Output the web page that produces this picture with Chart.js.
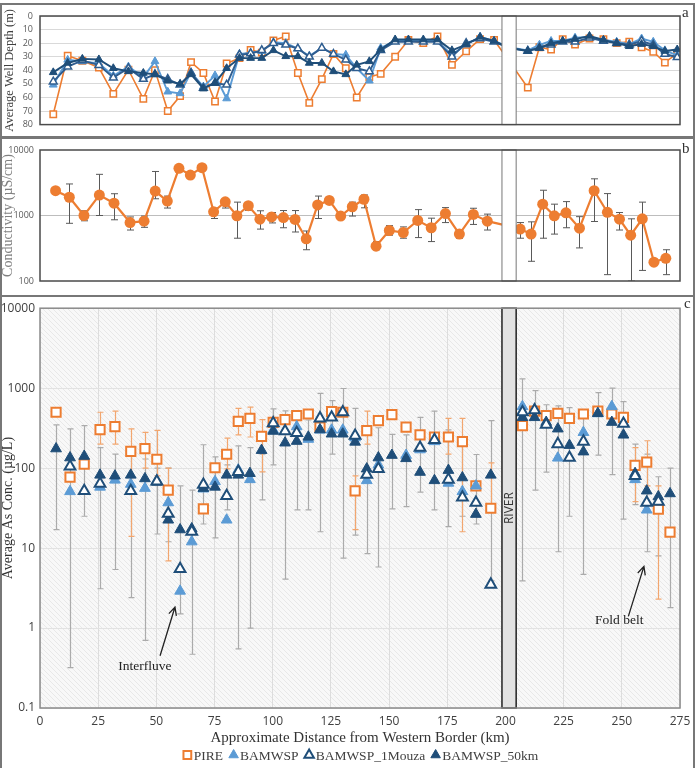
<!DOCTYPE html>
<html>
<head>
<meta charset="utf-8">
<script src="https://cdn.jsdelivr.net/npm/chart.js@4.4.1/dist/chart.umd.min.js"></script>
<style>
  body { margin: 0; background: #fff; width: 697px; height: 768px; position: relative; overflow: hidden; }
  .frame { position: absolute; left: 0; width: 695px; border: 2px solid #777; box-sizing: border-box; }
  canvas { position: absolute; left: 0; z-index: 2; }
  .lab { position: absolute; z-index: 3; font: 15px 'Liberation Serif', serif; color: #333; }
</style>
</head>
<body>
<div class="frame" style="top:3px;height:135px"></div>
<div class="frame" style="top:137px;height:160px"></div>
<div class="frame" style="top:295px;height:480px"></div>
<canvas id="ca" width="697" height="137" style="top:0"></canvas>
<canvas id="cb" width="697" height="159" style="top:137px"></canvas>
<canvas id="cc" width="697" height="472" style="top:296px"></canvas>
<div class="lab" style="left:682px;top:4px">a</div>
<div class="lab" style="left:682px;top:140px">b</div>
<div class="lab" style="left:684px;top:295px">c</div>
<script>
// ---- data ----
const riverKm = [198.5, 204.6];

// (a) average well depth, m
const depthKm = [5.7, 11.9, 18.2, 25.3, 31.5, 38, 44.4, 49.4, 54.9, 60.2,
  64.9, 70.2, 75.2, 80.2, 85.7, 90.5, 95.3, 100.3, 105.6, 110.8,
  115.7, 121.1, 126.1, 131.4, 136.1, 141.5, 146.4, 152.6, 158.3, 164.7,
  170.8, 177, 183.1, 189.1, 195.1, 201.5, 209.6, 214.6, 219.6, 224.6,
  229.9, 236.1, 242.1, 247.8, 253.2, 258.5, 263.5, 268.5, 273.8];
const depthPIRE = [72.4, 29.3, 33, 38, 57.4, 39.6, 61, 40, 70, 59,
  34, 42, 63, 35, 31, 25, 27, 18, 15, 42,
  64, 46.5, 28, 38.5, 60, 45, 42.6, 30, 17.7, 20,
  15, 36, 26, 17, 17.7, 33, 52.8, 23, 24.7, 17,
  21, 16.6, 17, 20, 19, 23, 26.3, 34.3, 27.6];
const depthBAMWSP = [50.7, 32.3, 33.5, 35, 44, 37.3, 45, 33.4, 55.8, 57,
  41.5, 52, 43.8, 60.8, 28, 27, 26, 19.4, 20, 24,
  29.5, 23.5, 28, 28.6, 38.5, 47.7, 23.5, 18.4, 18.4, 18.4,
  18.4, 28.6, 21, 15.4, 18.4, 23, 25.3, 21.2, 18.4, 18.4,
  16, 15.4, 17.7, 19, 20.7, 16.6, 19, 25.3, 29];
const depth1Mouza = [48.4, 37.3, 32.7, 36.2, 45.4, 38.5, 46.5, 43, 46.5, 50.7,
  42, 53, 49.3, 50.7, 28.6, 27.6, 25.3, 20, 21.2, 24,
  30, 23.5, 28, 32.3, 38.5, 40.8, 25.3, 19, 19, 19,
  19, 30, 20, 16.6, 19, 23.5, 25.8, 23.5, 21.2, 19,
  19, 16, 18.4, 20, 21.2, 18.4, 21.2, 28, 30.4];
const depth50km = [41.5, 34.6, 31.6, 32, 38.5, 40.8, 42, 43, 47.7, 50,
  43, 53.5, 49.3, 38.5, 31, 31, 31, 25.3, 29.7, 29.7,
  34.6, 34.6, 40.8, 43, 36, 33.4, 24.7, 17.3, 17.3, 17.3,
  17.3, 25.3, 21, 15.4, 18.4, 23.5, 25.8, 23.5, 20, 18.4,
  17, 14.7, 17.7, 20, 22.3, 20.7, 22.3, 25.8, 24.7];
const depthTicks = [0, 10, 20, 30, 40, 50, 60, 70, 80];

// (b) conductivity, uS/cm
const condKm = [6.7, 12.6, 18.9, 25.5, 31.8, 38.7, 44.7, 49.5, 54.7, 59.7,
  64.6, 69.6, 74.6, 79.6, 84.6, 89.5, 94.5, 99.5, 104.6, 109.6,
  114.4, 119.3, 124.3, 129.2, 134.2, 139.2, 144.4, 150.1, 156.1, 162.3,
  168.1, 174.2, 180.2, 186.2, 192.2, 201.5, 206.3, 211, 216, 221,
  226, 231.8, 238.1, 243.8, 249, 253.8, 258.8, 263.8, 268.9];
const condMean = [2390, 1900, 1000, 2050, 1540, 780, 820, 2360, 1660, 5250,
  4150, 5370, 1140, 1620, 990, 1410, 880, 950, 930, 870,
  440, 1450, 1700, 980, 1360, 1770, 340, 590, 550, 840,
  650, 1070, 520, 1040, 820, 690, 620, 520, 1490, 990,
  1100, 640, 2390, 1120, 880, 500, 890, 194, 222];
const condLo = [null, 760, 830, 1000, 860, 600, 660, 1800, 1300, null,
  null, null, 900, 1300, 450, 1200, 620, 770, 650, 560,
  300, 900, null, null, 980, 1310, 300, 500, 450, 460,
  400, 780, 450, 730, 600, null, 450, 200, 450, 520,
  650, 320, 810, 125, 600, 100, 145, null, 125];
const condHi = [null, 3030, 1180, 4250, 2150, 950, 980, 4700, 1980, null,
  null, null, 1300, 1800, 1600, 1550, 1180, 1110, 1190, 1190,
  580, 1980, null, null, 1600, 2060, 400, 700, 670, 1230,
  910, 1320, 600, 1290, 1050, null, 780, 800, 2430, 1490,
  1630, 960, 3630, 2160, 1110, 890, 1600, null, 300];
const condTicks = [100, 1000, 10000];

// (c) average As concentration, ug/L
const asKm = [6.9, 12.9, 19, 25.8, 32.2, 39, 45.1, 50.2, 55.1, 60.2,
  65.2, 70.2, 75.2, 80.2, 85.2, 90.2, 95.2, 100.2, 105.3, 110.3,
  115.3, 120.3, 125.3, 130.1, 135.4, 140.4, 145.4, 151.2, 157.3, 163.3,
  169.5, 175.5, 181.5, 187.3, 193.7, 207.3, 212.5, 217.5, 222.5, 227.5,
  233.5, 239.7, 245.7, 250.7, 255.7, 260.7, 265.7, 270.7];
const asPIRE = [500, 77, 112, 303, 331, 162, 175, 129, 53, null,
  null, 31, 101, 149, 385, 420, 250, 374, 405, 453,
  475, 325, 508, 500, 52, 295, 393, 466, 325, 260,
  245, 245, 215, 60, 31.5, 340, 515, 453, 484, 420,
  475, 515, 475, 430, 108, 119, 30.6, 15.8];
const asBAMWSP = [null, 51, null, 58, 71, 63, 56, 70, 37, 2.9,
  12, 55, 68, 22.5, 95, 72, null, 300, 290, 330,
  230, 300, 300, 300, 240, 70, 110, null, 145, 170,
  215, 65, 51, 60, null, 590, null, null, 134, null,
  280, 480, 590, null, 72, 30, null, null];
const as1Mouza = [null, 105, 52, 64, null, 52, null, 68, 27, 5.5,
  16, 62, null, 45, 90, null, null, 365, 290, 275,
  null, 420, 430, 500, 255, 83, 98, null, null, 180,
  225, 72, 43, 37, 3.5, 500, 530, 350, 200, 135,
  215, null, null, 360, 80, 37, 38, null];
const as50km = [175, 135, 141, 82, 80, 82, 74, 67, 22.5, 17,
  17.5, 56, 58, 82, 82, 86, 167, 290, 207, 217,
  245, 303, 268, 268, 212, 98, 135, 145, 132, 89,
  70, 94, 76, 26.5, 82, 430, 430, 375, 310, 193,
  160, 484, 375, 260, 86, 52, 44, 48];
// error ranges (grey: BAMWSP groups, orange: PIRE)
const asLo = [17, 0.32, 25, 3.1, 5.4, 2.4, 0.7, 15, 12, 1.5,
  0.47, 20, 13.4, 30, 0.55, 1.0, 40, 110, 4.1, 30,
  30, 16, 150, 7.5, 14.5, 8.5, 5.8, 31, 33, 50,
  30, 18.6, 25, 20, 3.9, 3.9, 53, 89, 9, 25,
  4.7, 145, 83, 23, 35, 9, 8, 1.8];
const asHi = [347, 309, 340, 180, 150, 150, 130, 100, 100, 60,
  53, 196, 138, 110, 190, 180, 150, 550, 520, 480,
  400, 860, 700, 990, 560, 300, 320, 265, 260, 430,
  515, 300, 200, 148, 393, 1310, 930, 620, 600, 570,
  500, 880, 1000, 680, 200, 150, 78, 100];
const asPIRELo = [null, null, null, 200, 200, 14, 100, 80, 6.9, null,
  null, null, null, 98, 260, 245, 90, null, null, null,
  null, null, null, null, 17, 200, null, null, null, null,
  null, 150, 16, null, 29, null, null, null, null, null,
  null, null, null, null, 38, 60, 2.3, null];
const asPIREHi = [null, null, null, 500, 515, 309, 280, 296, 100, null,
  null, null, null, 237, 560, 580, 405, null, null, null,
  null, null, null, null, 80, 515, null, null, null, null,
  null, 420, 420, null, 116, null, null, null, null, null,
  null, null, null, null, 180, 220, 60, null];
const asTicks = [0.1, 1, 10, 100, 1000, 10000];

// annotations in panel c (km, ug/L)
const noteText = ['Interfluve', 'Fold belt'];
const noteKm = [45.1, 248.9];
const noteVal = [0.335, 1.24];
const arrowFromKm = [51.6, 252.8];
const arrowFromVal = [0.45, 1.4];
const arrowToKm = [58, 259.5];
const arrowToVal = [1.83, 5.9];

// ---- styles ----
const ORANGE = '#ED7D31', LIGHT = '#5B9BD5', NAVY = '#1F4E79', MID = '#2F5D8F';
const serif = "'Liberation Serif', 'Times New Roman', serif";
const sans = "'Open Sans', 'Liberation Sans', sans-serif";

function pts(xs, ys) {
  return xs.map((x, i) => ({ x: x, y: ys[i] }));
}

function hatchPattern(ctx) {
  const c = document.createElement('canvas');
  c.width = c.height = 5;
  const g = c.getContext('2d');
  g.fillStyle = '#f8f8f8';
  g.fillRect(0, 0, 5, 5);
  g.strokeStyle = '#e8e8e8';
  g.lineWidth = 1;
  g.beginPath();
  g.moveTo(-1, -1); g.lineTo(6, 6);
  g.moveTo(-1, 4); g.lineTo(1, 6);
  g.moveTo(4, -1); g.lineTo(6, 1);
  g.stroke();
  return ctx.createPattern(c, 'repeat');
}

// per-canvas decoration settings
const decoCfg = {
  ca: { river: { fill: '#fff', stroke: '#777', width: 1 }, frame: '#4a4a4a', frameWidth: 1.5, errors: [] },
  cb: { river: { fill: '#fff', stroke: '#777', width: 1 }, frame: '#4a4a4a', frameWidth: 1.5,
        errors: [{ x: condKm, lo: condLo, hi: condHi, color: '#595959', cap: 3.5, width: 1 }] },
  cc: { hatch: true, river: { fill: '#e2e2e2', stroke: '#222', width: 1.5, label: 'RIVER' }, frame: '#8a8a8a', frameWidth: 1.5,
        errors: [{ x: asKm, lo: asLo, hi: asHi, color: '#ababab', cap: 3, width: 1.2 },
                 { x: asKm, lo: asPIRELo, hi: asPIREHi, color: '#f2a66f', cap: 3, width: 1.2 }],
        notes: true, legend: true }
};

const deco = {
  id: 'deco',
  beforeDraw(chart) {
    const d = decoCfg[chart.canvas.id];
    if (!d.hatch) return;
    const { ctx, chartArea: a } = chart;
    ctx.save();
    ctx.fillStyle = hatchPattern(ctx);
    ctx.fillRect(a.left, a.top, a.width, a.height);
    ctx.restore();
  },
  beforeDatasetsDraw(chart) {
    const d = decoCfg[chart.canvas.id];
    const { ctx, chartArea: a, scales: { x, y } } = chart;
    ctx.save();
    ctx.beginPath();
    ctx.rect(a.left, a.top, a.width, a.height);
    ctx.clip();
    d.errors.forEach(s => {
      ctx.strokeStyle = s.color;
      ctx.lineWidth = s.width;
      ctx.beginPath();
      s.lo.forEach((lo, i) => {
        const hi = s.hi[i];
        if (lo == null || hi == null) return;
        const px = Math.round(x.getPixelForValue(s.x[i])) + 0.5;
        const y1 = y.getPixelForValue(lo), y2 = y.getPixelForValue(hi);
        ctx.moveTo(px, y1); ctx.lineTo(px, y2);
        ctx.moveTo(px - s.cap, y1); ctx.lineTo(px + s.cap, y1);
        ctx.moveTo(px - s.cap, y2); ctx.lineTo(px + s.cap, y2);
      });
      ctx.stroke();
    });
    ctx.restore();
  },
  afterDatasetsDraw(chart) {
    const d = decoCfg[chart.canvas.id];
    const { ctx, chartArea: a, scales: { x, y } } = chart;
    ctx.save();
    // river band
    const r = d.river;
    const x1 = x.getPixelForValue(riverKm[0]), x2 = x.getPixelForValue(riverKm[1]);
    ctx.fillStyle = r.fill;
    ctx.fillRect(x1, a.top, x2 - x1, a.bottom - a.top);
    ctx.strokeStyle = r.stroke;
    ctx.lineWidth = r.width;
    ctx.strokeRect(x1, a.top, x2 - x1, a.bottom - a.top);
    if (r.label) {
      ctx.save();
      ctx.translate((x1 + x2) / 2 + 1, (a.top + a.bottom) / 2);
      ctx.rotate(-Math.PI / 2);
      ctx.fillStyle = '#333';
      ctx.font = '12px ' + sans;
      ctx.textAlign = 'center';
      ctx.textBaseline = 'middle';
      ctx.fillText(r.label, 0, 0);
      ctx.restore();
    }
    // plot frame
    ctx.strokeStyle = d.frame;
    ctx.lineWidth = d.frameWidth;
    ctx.strokeRect(a.left, a.top, a.width, a.height);
    // notes with arrows
    if (d.notes) {
      ctx.fillStyle = '#222';
      ctx.strokeStyle = '#222';
      ctx.lineWidth = 1.3;
      ctx.font = '13.5px ' + serif;
      ctx.textAlign = 'center';
      ctx.textBaseline = 'middle';
      noteText.forEach((t, i) => {
        ctx.fillText(t, x.getPixelForValue(noteKm[i]), y.getPixelForValue(noteVal[i]));
        const fx = x.getPixelForValue(arrowFromKm[i]), fy = y.getPixelForValue(arrowFromVal[i]);
        const tx = x.getPixelForValue(arrowToKm[i]), ty = y.getPixelForValue(arrowToVal[i]);
        const ang = Math.atan2(ty - fy, tx - fx);
        ctx.beginPath();
        ctx.moveTo(fx, fy); ctx.lineTo(tx, ty);
        ctx.moveTo(tx - 9 * Math.cos(ang - 0.45), ty - 9 * Math.sin(ang - 0.45));
        ctx.lineTo(tx, ty);
        ctx.lineTo(tx - 9 * Math.cos(ang + 0.45), ty - 9 * Math.sin(ang + 0.45));
        ctx.stroke();
      });
    }
    ctx.restore();
  },
  afterDraw(chart) {
    const d = decoCfg[chart.canvas.id];
    if (!d.legend) return;
    const { ctx, chartArea: a } = chart;
    const sets = chart.data.datasets;
    ctx.save();
    ctx.font = '13.5px ' + serif;
    const mw = 11, gap = 1, sep = 5;
    const widths = sets.map(s => mw + gap + ctx.measureText(s.label).width);
    const total = widths.reduce((p, w) => p + w, 0) + sep * (sets.length - 1);
    let px = (a.left + a.right) / 2 - total / 2;
    const py = chart.height - 13;
    sets.forEach((s, i) => {
      ctx.fillStyle = s.backgroundColor;
      ctx.strokeStyle = s.borderColor;
      ctx.lineWidth = s.pointBorderWidth;
      Chart.helpers.drawPoint(ctx, { pointStyle: s.pointStyle, radius: 5.5, rotation: 0, borderWidth: s.pointBorderWidth }, px + mw / 2, py);
      ctx.fillStyle = '#404040';
      ctx.textBaseline = 'middle';
      ctx.textAlign = 'left';
      ctx.fillText(s.label, px + mw + gap, py + 1);
      px += widths[i] + sep;
    });
    ctx.restore();
  }
};

const fixedWidth = s => { s.width = 40; };

// ---- panel a ----
new Chart(document.getElementById('ca'), {
  type: 'line',
  data: {
    datasets: [
      { label: 'BAMWSP_50km', data: pts(depthKm, depth50km), borderColor: NAVY, backgroundColor: NAVY,
        pointStyle: 'triangle', pointRadius: 4.5, pointBorderWidth: 1, borderWidth: 1.9, order: 1 },
      { label: 'BAMWSP_1Mouza', data: pts(depthKm, depth1Mouza), borderColor: MID, backgroundColor: '#fff',
        pointStyle: 'triangle', pointRadius: 4.5, pointBorderWidth: 1.5, borderWidth: 1.9, order: 2 },
      { label: 'BAMWSP', data: pts(depthKm, depthBAMWSP), borderColor: LIGHT, backgroundColor: LIGHT,
        pointStyle: 'triangle', pointRadius: 4.5, pointBorderWidth: 1, borderWidth: 1.9, order: 3 },
      { label: 'PIRE', data: pts(depthKm, depthPIRE), borderColor: ORANGE, backgroundColor: '#fff',
        pointStyle: 'rect', pointRadius: 4.5, pointBorderWidth: 1.5, borderWidth: 1.6, order: 4 }
    ]
  },
  options: {
    responsive: false, animation: false,
    layout: { padding: { top: 16, bottom: 5, left: 0, right: 17 } },
    plugins: { legend: { display: false }, tooltip: { enabled: false } },
    scales: {
      x: { type: 'linear', min: 0, max: 275, display: false },
      y: {
        min: 0, max: 80, reverse: true,
        afterBuildTicks: s => { s.ticks = depthTicks.map(v => ({ value: v })); },
        ticks: { font: { family: sans, size: 9 }, color: '#595959', padding: 7 },
        grid: { color: '#d9d9d9', drawTicks: false },
        border: { display: false },
        title: { display: true, text: 'Average Well Depth (m)', color: '#404040',
                 font: { family: serif, size: 12.5 }, padding: { top: 2, bottom: 0 } },
        afterFit: fixedWidth
      }
    }
  },
  plugins: [deco]
});

// ---- panel b ----
new Chart(document.getElementById('cb'), {
  type: 'line',
  data: {
    datasets: [
      { label: 'Conductivity', data: pts(condKm, condMean), borderColor: ORANGE, backgroundColor: ORANGE,
        pointStyle: 'circle', pointRadius: 5.5, pointBorderWidth: 0, borderWidth: 2.2 }
    ]
  },
  options: {
    responsive: false, animation: false,
    layout: { padding: { top: 13, bottom: 15, left: 0, right: 17 } },
    plugins: { legend: { display: false }, tooltip: { enabled: false } },
    scales: {
      x: { type: 'linear', min: 0, max: 275, display: false },
      y: {
        type: 'logarithmic', min: 100, max: 10000,
        afterBuildTicks: s => { s.ticks = condTicks.map(v => ({ value: v })); },
        ticks: { font: { family: sans, size: 9 }, color: '#595959', padding: 6, callback: v => String(v) },
        grid: { color: c => (c.tick && c.tick.value === 1000 ? '#bdbdbd' : 'rgba(0,0,0,0)'), drawTicks: false },
        border: { display: false },
        title: { display: true, text: 'Conductivity (\u00b5S/cm)', color: '#808080',
                 font: { family: serif, size: 14 }, padding: { top: 0, bottom: 0 } },
        afterFit: fixedWidth
      }
    }
  },
  plugins: [deco]
});

// ---- panel c ----
new Chart(document.getElementById('cc'), {
  type: 'scatter',
  data: {
    datasets: [
      { label: 'PIRE', data: pts(asKm, asPIRE), borderColor: ORANGE, backgroundColor: '#fff',
        pointStyle: 'rect', pointRadius: 6.5, pointBorderWidth: 2, order: 4 },
      { label: 'BAMWSP', data: pts(asKm, asBAMWSP), borderColor: LIGHT, backgroundColor: LIGHT,
        pointStyle: 'triangle', pointRadius: 6.2, pointBorderWidth: 1, order: 3 },
      { label: 'BAMWSP_1Mouza', data: pts(asKm, as1Mouza), borderColor: NAVY, backgroundColor: '#fff',
        pointStyle: 'triangle', pointRadius: 6.2, pointBorderWidth: 2, order: 1 },
      { label: 'BAMWSP_50km', data: pts(asKm, as50km), borderColor: NAVY, backgroundColor: NAVY,
        pointStyle: 'triangle', pointRadius: 6.2, pointBorderWidth: 1, order: 2 }
    ]
  },
  options: {
    responsive: false, animation: false,
    layout: { padding: { top: 9, bottom: 21, left: 0, right: 17 } },
    plugins: { legend: { display: false }, tooltip: { enabled: false } },
    scales: {
      x: {
        type: 'linear', min: 0, max: 275,
        ticks: { stepSize: 25, font: { family: sans, size: 12 }, color: '#404040', padding: 6 },
        grid: { color: '#dddddd', drawTicks: false },
        border: { display: false },
        title: { display: true, text: 'Approximate Distance from Western Border (km)', color: '#333',
                 font: { family: serif, size: 15 }, padding: { top: 0, bottom: 0 } },
        afterFit: s => { s.height = 39; }
      },
      y: {
        type: 'logarithmic', min: 0.1, max: 10000,
        afterBuildTicks: s => { s.ticks = asTicks.map(v => ({ value: v })); },
        ticks: { font: { family: sans, size: 12 }, color: '#404040', padding: 5, callback: v => String(v) },
        grid: { color: '#e2e2e2', drawTicks: false },
        border: { display: false },
        title: { display: true, text: 'Average As Conc. (\u00b5g/L)', color: '#333',
                 font: { family: serif, size: 14 }, padding: { top: 0, bottom: 0 } },
        afterFit: fixedWidth
      }
    }
  },
  plugins: [deco]
});
</script>
</body>
</html>
